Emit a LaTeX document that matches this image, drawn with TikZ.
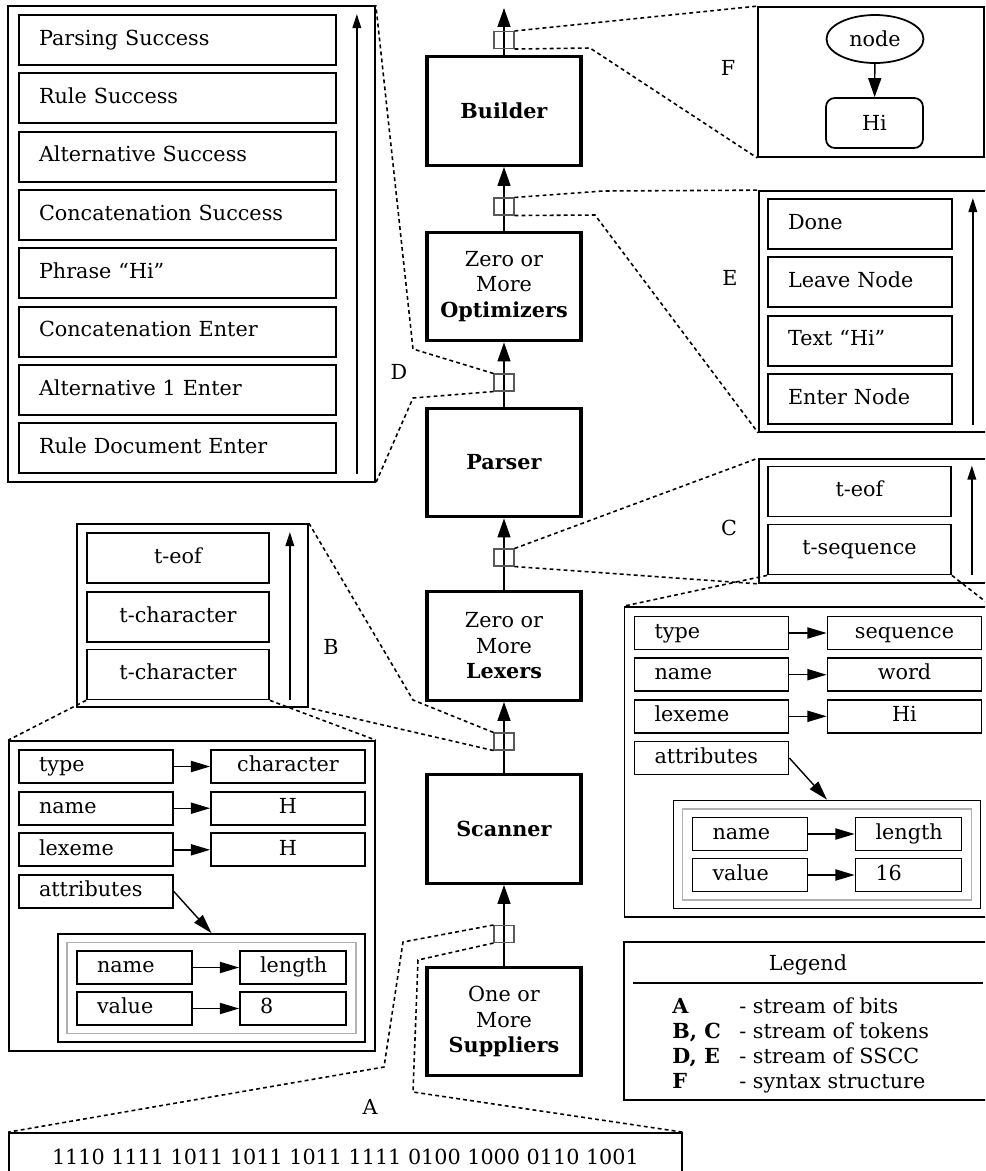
\documentclass[tikz,border=0pt]{standalone}
\usepackage{fontspec}
\setmainfont{DejaVu Serif}
\usetikzlibrary{arrows.meta,shapes.geometric}

\begin{document}
\begin{tikzpicture}
[
    x=0.02cm, y=-0.02cm,
    font=\fontsize{11.8}{14.5}\selectfont,
    stage/.style={rectangle,draw=black,line width=1.9pt,minimum width=3.08cm,minimum height=2.17cm,align=center},
    tap/.style={rectangle,draw=black!65,line width=0.6pt,minimum width=0.4cm,minimum height=0.34cm,inner sep=0pt},
    panel/.style={rectangle,draw=black,line width=1pt,inner sep=0pt},
    entry/.style={rectangle,draw=black,line width=1pt,minimum height=1cm,inner xsep=0.4cm,text width=#1,align=left,text height=9pt,text depth=3pt},
    token/.style={rectangle,draw=black,line width=1pt,minimum height=1cm,minimum width=#1,align=center,text height=9pt,text depth=3pt},
    field/.style={rectangle,draw=black,line width=1pt,minimum height=0.66cm,inner xsep=0.4cm,text width=#1,align=left,text height=9pt,text depth=3pt},
    fieldval/.style={rectangle,draw=black,line width=1pt,minimum height=0.66cm,minimum width=3.08cm,align=center,text height=9pt,text depth=3pt},
    legtext/.style={anchor=base west,inner sep=0pt},
    flow/.style={-{Triangle[length=10.8pt,width=7.4pt]},line width=0.8pt},
    link/.style={-{Triangle[length=11pt,width=6.4pt]},line width=0.8pt},
    up/.style={-{Triangle[length=8pt,width=5pt]},line width=0.8pt},
    zoomline/.style={line width=0.9pt,dash pattern=on 2.2pt off 1.8pt},
]

\useasboundingbox (0,0) rectangle (985,1171);
\clip (0,0) rectangle (985,1171);

\node at (504,111) [stage] (builder) {\textbf{Builder}};
\node at (504,286.5) [stage] (optimizers) {Zero or\\More\\\textbf{Optimizers}};
\node at (504,462.5) [stage] (parser) {\textbf{Parser}};
\node at (504,646) [stage] (lexers) {Zero or\\More\\\textbf{Lexers}};
\node at (504,829) [stage] (scanner) {\textbf{Scanner}};
\node at (504,1021.5) [stage] (suppliers) {One or\\More\\\textbf{Suppliers}};
\coordinate (result) at (504,8);

\draw[flow] (suppliers) -- (scanner);
\draw[flow] (scanner) -- (lexers);
\draw[flow] (lexers) -- (parser);
\draw[flow] (parser) -- (optimizers);
\draw[flow] (optimizers) -- (builder);
\draw[flow] (builder) -- (result);

\node at (504,934) [tap] (tapA) {};
\node at (504,741.5) [tap] (tapB) {};
\node at (504,557.5) [tap] (tapC) {};
\node at (504,382.5) [tap] (tapD) {};
\node at (504,206.5) [tap] (tapE) {};
\node at (504,40) [tap] (tapF) {};

\node at (370,1107) (labA) {A};
\node at (331,647) (labB) {B};
\node at (729,528) (labC) {C};
\node at (399,372) (labD) {D};
\node at (730,278) (labE) {E};
\node at (728,68) (labF) {F};

\node at (871,82) [panel,minimum width=4.52cm,minimum height=3cm] (panelF) {};
\node at (875,39) [ellipse,draw,line width=1pt,minimum width=1.94cm,minimum height=0.96cm,inner sep=0pt] (synnode) {node};
\node at (874.5,123) [rectangle,rounded corners=5pt,draw,line width=1pt,minimum width=1.94cm,minimum height=1cm] (syntext) {Hi};
\draw[flow] (synnode) -- (syntext);

\node at (875,311.5) [panel,minimum width=4.64cm,minimum height=4.82cm] (panelE) {};
\node at (860,224) [entry=2.88cm] (e1) {Done};
\node at (860,282.3) [entry=2.88cm] (e2) {Leave Node};
\node at (860,340.7) [entry=2.88cm] (e3) {Text “Hi”};
\node at (860,399) [entry=2.88cm] (e4) {Enter Node};
\draw[up] ([xshift=0.4cm]e4.south east) -- ([xshift=0.4cm]e1.north east);

\node at (191.5,244) [panel,minimum width=7.34cm,minimum height=9.52cm] (panelD) {};
\node at (177.5,40) [entry=5.54cm] (d1) {Parsing Success};
\node at (177.5,98.3) [entry=5.54cm] (d2) {Rule Success};
\node at (177.5,156.7) [entry=5.54cm] (d3) {Alternative Success};
\node at (177.5,215) [entry=5.54cm] (d4) {Concatenation Success};
\node at (177.5,273.3) [entry=5.54cm] (d5) {Phrase “Hi”};
\node at (177.5,331.7) [entry=5.54cm] (d6) {Concatenation Enter};
\node at (177.5,390) [entry=5.54cm] (d7) {Alternative 1 Enter};
\node at (177.5,448.3) [entry=5.54cm] (d8) {Rule Document Enter};
\draw[up] ([xshift=0.4cm]d8.south east) -- ([xshift=0.4cm]d1.north east);

\node at (875,521) [panel,minimum width=4.64cm,minimum height=2.48cm] (panelC) {};
\node at (859.5,491.5) [token=3.66cm] (c1) {t-eof};
\node at (859.5,549.5) [token=3.66cm] (c2) {t-sequence};
\draw[up] ([xshift=0.4cm]c2.south east) -- ([xshift=0.4cm]c1.north east);

\node at (192.5,615.5) [panel,minimum width=4.62cm,minimum height=3.66cm] (panelB) {};
\node at (178,558) [token=3.64cm] (b1) {t-eof};
\node at (178,617) [token=3.64cm] (b2) {t-character};
\node at (178,674.5) [token=3.64cm] (b3) {t-character};
\draw[up] ([xshift=0.4cm]b3.south east) -- ([xshift=0.4cm]b1.north east);

\node at (192,896) [panel,minimum width=7.32cm,minimum height=6.2cm] (bdetail) {};
\node at (96,766.5) [field=2.28cm] (btype) {type};
\node at (288,766.5) [fieldval] (btypev) {character};
\node at (96,808.2) [field=2.28cm] (bname) {name};
\node at (288,808.2) [fieldval] (bnamev) {H};
\node at (96,849.8) [field=2.28cm] (blex) {lexeme};
\node at (288,849.8) [fieldval] (blexv) {H};
\node at (96,891.5) [field=2.28cm] (battr) {attributes};
\node at (211.5,988) [panel,minimum width=6.14cm,minimum height=2.16cm] (bnest) {};
\node at (211.5,988) [panel,draw=black!30,minimum width=5.78cm,minimum height=1.82cm] (bnestin) {};
\node at (134.5,967.5) [field=1.5cm] (bkey1) {name};
\node at (293,967.5) [field=1.32cm] (bval1) {length};
\node at (134.5,1008.5) [field=1.5cm] (bkey2) {value};
\node at (293,1008.5) [field=1.32cm] (bval2) {8};
\draw[link] (btype) -- (btypev);
\draw[link] (bname) -- (bnamev);
\draw[link] (blex) -- (blexv);
\draw[link] (battr.east) -- (bnest.north);
\draw[link] (bkey1) -- (bval1);
\draw[link] (bkey2) -- (bval2);

\node at (807.5,762) [panel,minimum width=7.32cm,minimum height=6.2cm] (cdetail) {};
\node at (711.5,633) [field=2.28cm] (ctype) {type};
\node at (904.5,633) [fieldval] (ctypev) {sequence};
\node at (711.5,674.7) [field=2.28cm] (cname) {name};
\node at (904.5,674.7) [fieldval] (cnamev) {word};
\node at (711.5,716.3) [field=2.28cm] (clex) {lexeme};
\node at (904.5,716.3) [fieldval] (clexv) {Hi};
\node at (711.5,758) [field=2.28cm] (cattr) {attributes};
\node at (827,854.5) [panel,minimum width=6.14cm,minimum height=2.16cm] (cnest) {};
\node at (827,854.5) [panel,draw=black!30,minimum width=5.78cm,minimum height=1.82cm] (cnestin) {};
\node at (750,834) [field=1.5cm] (ckey1) {name};
\node at (908.5,834) [field=1.32cm] (cval1) {length};
\node at (750,875) [field=1.5cm] (ckey2) {value};
\node at (908.5,875) [field=1.32cm] (cval2) {16};
\draw[link] (ctype) -- (ctypev);
\draw[link] (cname) -- (cnamev);
\draw[link] (clex) -- (clexv);
\draw[link] (cattr.east) -- (cnest.north);
\draw[link] (ckey1) -- (cval1);
\draw[link] (ckey2) -- (cval2);

\node at (345.5,1157) [panel,minimum width=13.46cm,minimum height=0.96cm] (bits) {1110 1111 1011 1011 1011 1111 0100 1000 0110 1001};

\node at (808,1021) [panel,minimum width=7.36cm,minimum height=3.16cm] (legend) {};
\node at (808,965) (legtitle) {Legend};
\draw[line width=1pt] ([shift={(0.2cm,-0.84cm)}]legend.north west) -- ([shift={(-0.2cm,-0.84cm)}]legend.north east);
\node at (672,1013) [legtext] (legA) {\textbf{A}};
\node at (739,1013) [legtext] {- stream of bits};
\node at (672,1038) [legtext] (legBC) {\textbf{B, C}};
\node at (739,1038) [legtext] {- stream of tokens};
\node at (672,1063) [legtext] (legDE) {\textbf{D, E}};
\node at (739,1063) [legtext] {- stream of SSCC};
\node at (672,1088) [legtext] (legF) {\textbf{F}};
\node at (739,1088) [legtext] {- syntax structure};

\draw[zoomline] (tapF.north east) -- (panelF.north west);
\draw[zoomline] (tapF.south east) -- (590,48) -- (panelF.south west);
\draw[zoomline] (tapE.north east) -- (603,191) -- (panelE.north west);
\draw[zoomline] (tapE.south east) -- (595,215) -- (panelE.south west);
\draw[zoomline] (tapD.north west) -- (413,349) -- (panelD.north east);
\draw[zoomline] (tapD.south west) -- (413,398) -- (panelD.south east);
\draw[zoomline] (tapC.north east) -- (panelC.north west);
\draw[zoomline] (tapC.south east) -- (panelC.south west);
\draw[zoomline] (c2.south west) -- (cdetail.north west);
\draw[zoomline] (c2.south east) -- (cdetail.north east);
\draw[zoomline] (tapB.north west) -- (413,700) -- (panelB.north east);
\draw[zoomline] (tapB.south west) -- (panelB.south east);
\draw[zoomline] (b3.south west) -- (bdetail.north west);
\draw[zoomline] (b3.south east) -- (bdetail.north east);
\draw[zoomline] (tapA.north west) -- (403,942) -- (384,1067) -- (bits.north west);
\draw[zoomline] (tapA.south west) -- (418,960) -- (413,1092) -- (bits.north east);
\end{tikzpicture}
\end{document}
